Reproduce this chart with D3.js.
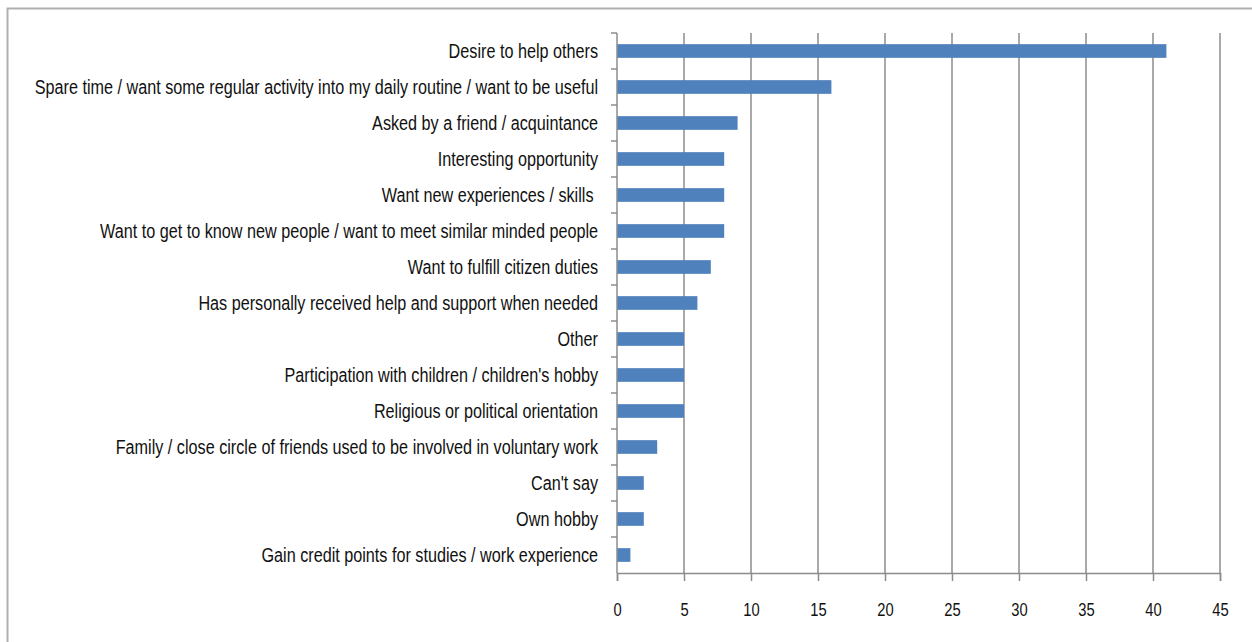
<!DOCTYPE html>
<html>
<head>
<meta charset="utf-8">
<script src="https://cdn.jsdelivr.net/npm/d3@7"></script>
<style>
html,body{margin:0;padding:0;background:#fff;}
svg{display:block;}
text{font-family:"Liberation Sans Narrow","Arial Narrow","Liberation Sans",Arial,sans-serif;}
</style>
</head>
<body>
<svg id="chart" width="1252" height="642"></svg>
<script>
const categories = [
  "Desire to help others",
  "Spare time / want some regular activity into my daily routine / want to be useful",
  "Asked by a friend / acquintance",
  "Interesting opportunity",
  "Want new experiences / skills ",
  "Want to get to know new people / want to meet similar minded people",
  "Want to fulfill citizen duties",
  "Has personally received help and support when needed",
  "Other",
  "Participation with children / children's hobby",
  "Religious or political orientation",
  "Family / close circle of friends used to be involved in voluntary work",
  "Can't say",
  "Own hobby",
  "Gain credit points for studies / work experience"
];
const values = [41, 16, 9, 8, 8, 8, 7, 6, 5, 5, 5, 3, 2, 2, 1];
const xTicks = [0, 5, 10, 15, 20, 25, 30, 35, 40, 45];

(function () {
const svg = d3.select("#chart");
const W = 1252, H = 642;

svg.append("rect")
  .attr("x", 7.5).attr("y", 8.5)
  .attr("width", W + 10).attr("height", H + 10)
  .attr("fill", "none").attr("stroke", "#b0b0b0").attr("stroke-width", 2);

const pLeft = 617, pRight = 1220, pTop = 33, pBottom = 573;

const x = d3.scaleLinear().domain([0, 45]).range([pLeft, pRight]);
const y = d3.scaleBand().domain(categories).range([pTop, pBottom]).paddingInner(0.62).paddingOuter(0.31);
const yEdge = d3.scaleBand().domain(categories).range([pTop, pBottom]);

svg.append("g").selectAll("line").data(xTicks.filter(d => d > 0)).join("line")
  .attr("x1", d => x(d)).attr("x2", d => x(d))
  .attr("y1", pTop).attr("y2", pBottom)
  .attr("stroke", "#8c8c8c").attr("stroke-width", 1.5);

svg.append("g").selectAll("rect").data(values).join("rect")
  .attr("x", x(0))
  .attr("y", (d, i) => y(categories[i]))
  .attr("width", d => x(d) - x(0))
  .attr("height", y.bandwidth())
  .attr("fill", "#4f81bd");

const xAxis = svg.append("g").attr("transform", `translate(0,${pBottom})`)
  .call(d3.axisBottom(x).tickValues(xTicks).tickSize(8).tickPadding(22));
xAxis.select(".domain").attr("stroke", "#8c8c8c").attr("stroke-width", 1.5);
xAxis.selectAll(".tick line").attr("stroke", "#8c8c8c").attr("stroke-width", 1.5);
xAxis.selectAll(".tick text").attr("font-size", 18).attr("fill", "#111")
  .attr("transform", "scale(0.82,1)")
  .style("font-family", '"Liberation Sans Narrow","Arial Narrow","Liberation Sans",sans-serif');

const yAxisG = svg.append("g");
yAxisG.append("line").attr("x1", pLeft).attr("x2", pLeft).attr("y1", pTop).attr("y2", pBottom)
  .attr("stroke", "#8c8c8c").attr("stroke-width", 1.5);
yAxisG.selectAll("line.tk").data(categories).join("line").attr("class", "tk")
  .attr("x1", pLeft - 6).attr("x2", pLeft)
  .attr("y1", d => yEdge(d)).attr("y2", d => yEdge(d))
  .attr("stroke", "#8c8c8c").attr("stroke-width", 1.5);

svg.append("g").selectAll("text").data(categories).join("text")
  .attr("transform", d => `translate(598,${yEdge(d) + yEdge.bandwidth() / 2}) scale(0.81,1)`)
  .attr("dy", "0.35em")
  .attr("text-anchor", "end")
  .attr("font-size", 20)
  .attr("fill", "#111")
  .style("white-space", "pre")
  .text(d => d);
})();
</script>
</body>
</html>
